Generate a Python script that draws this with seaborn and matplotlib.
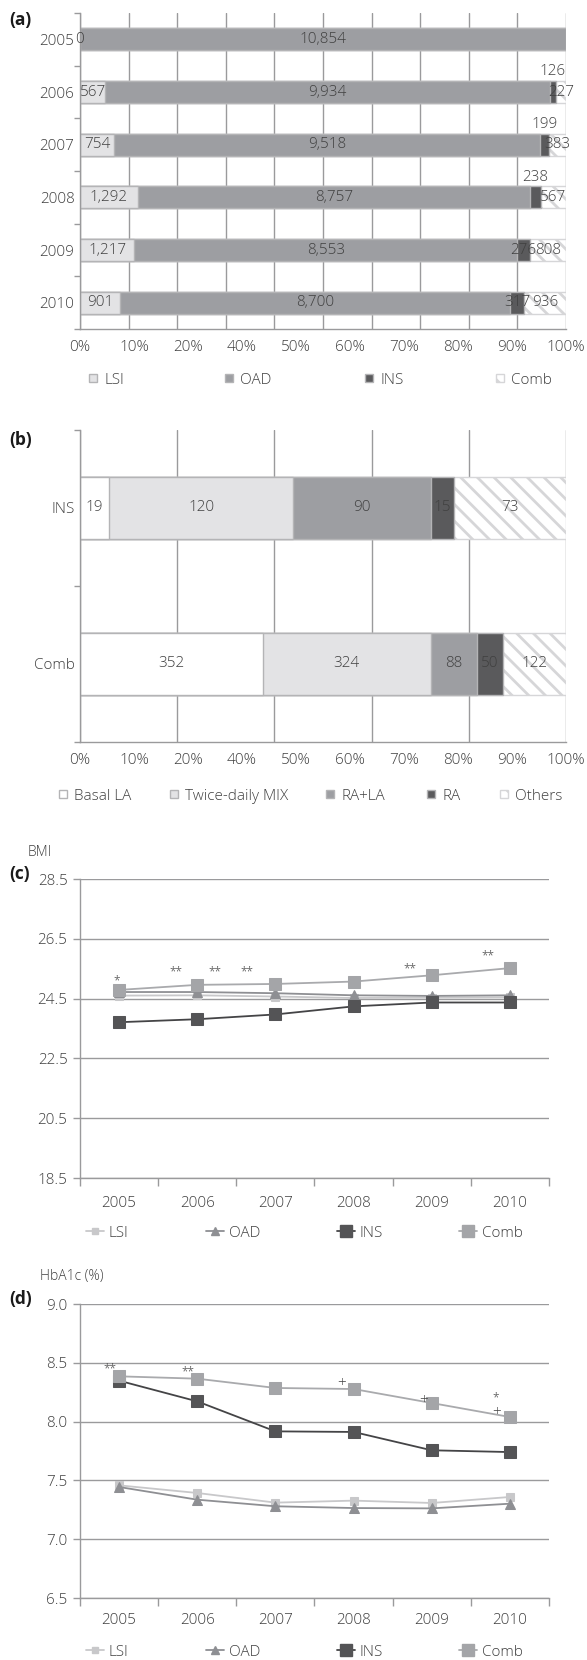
import numpy as np
import matplotlib
matplotlib.use("Agg")
import matplotlib.pyplot as plt
import seaborn as sns
from matplotlib.patches import Patch
from matplotlib.lines import Line2D

sns.set_theme(style="white")
plt.rcParams["font.family"] = ["Open Sans", "DejaVu Sans"]
plt.rcParams["font.weight"] = "light"
plt.rcParams["hatch.linewidth"] = 2.0

# ---------------- data ----------------
# (a) patients by treatment group and year
years = ["2005", "2006", "2007", "2008", "2009", "2010"]
groups = ["LSI", "OAD", "INS", "Comb"]
lsi = [0, 567, 754, 1292, 1217, 901]
oad = [10854, 9934, 9518, 8757, 8553, 8700]
ins = [0, 126, 199, 238, 276, 317]
comb = [0, 227, 383, 567, 808, 936]

# (b) insulin regimens
regimen_rows = ["INS", "Comb"]
regimens = ["Basal LA", "Twice-daily MIX", "RA+LA", "RA", "Others"]
basal_la = [19, 352]
twice_mix = [120, 324]
ra_la = [90, 88]
ra = [15, 50]
others = [73, 122]

pct_labels = ["0%", "10%", "20%", "40%", "50%", "60%", "70%", "80%", "90%", "100%"]

# (c) mean BMI by group
bmi_lsi = [24.60, 24.61, 24.57, 24.52, 24.53, 24.54]
bmi_oad = [24.72, 24.72, 24.68, 24.61, 24.59, 24.61]
bmi_ins = [23.71, 23.81, 23.97, 24.24, 24.37, 24.37]
bmi_comb = [24.79, 24.96, 24.99, 25.07, 25.28, 25.52]
bmi_signif = ["*", "**", "**", "**", "**", "**"]

# (d) mean HbA1c by group
hba_lsi = [7.458, 7.393, 7.311, 7.328, 7.308, 7.359]
hba_oad = [7.444, 7.336, 7.280, 7.265, 7.262, 7.302]
hba_ins = [8.348, 8.172, 7.917, 7.912, 7.756, 7.741]
hba_comb = [8.385, 8.365, 8.286, 8.277, 8.158, 8.039]
hba_signif = ["**", "**", "+", "+", "*", "+"]

# ---------------- styling ----------------
W, H, DPI = 587, 1660, 100
TEXT = "#404040"
GRID = "#9a9a9c"
EDGE = "#b4b4b6"
HATCH_EDGE = "#d6d6d8"
C_WHITE = "#ffffff"
C_LIGHT = "#e3e3e5"
C_MID = "#9d9ea2"
C_DARK = "#5a5a5c"
HATCH = "\\\\"
FS = 11

fig = plt.figure(figsize=(W / DPI, H / DPI), dpi=DPI)
fig.patch.set_facecolor("white")


def rect(l, t, r, b):
    return [l / W, 1 - b / H, (r - l) / W, (b - t) / H]


def fx(px):
    return px / W


def fy(py):
    return 1 - py / H


def stacked_barh(ax, cats, layers, colors, hatches, bar_h):
    counts = np.array(layers, dtype=float)
    frac = counts / counts.sum(axis=0)
    cum = np.cumsum(frac, axis=0)
    for i in reversed(range(len(layers))):
        edge = HATCH_EDGE if hatches[i] else EDGE
        sns.barplot(x=cum[i], y=cats, orient="y", color=colors[i], saturation=1,
                    width=bar_h, edgecolor=edge, linewidth=1.0,
                    hatch=hatches[i], ax=ax, zorder=2)
    return counts, frac, cum


def style_bar_axes(ax, grid_step, n_cats):
    ax.set_xlim(0, 1)
    ax.set_ylim(n_cats - 0.5, -0.5)
    ax.set_xlabel("")
    ax.set_ylabel("")
    gx = np.round(np.arange(0, 1.0001, grid_step), 3)
    ax.set_xticks(gx)
    ax.tick_params(axis="x", length=4, width=1, color=GRID, labelbottom=False, direction="out")
    ax.xaxis.grid(True, color=GRID, linewidth=1.0, zorder=0)
    ax.set_axisbelow(True)
    ax.set_yticks(np.arange(-0.5, n_cats, 1.0), minor=True)
    ax.tick_params(axis="y", which="minor", length=4, width=1, color=GRID, left=True)
    ax.tick_params(axis="y", which="major", length=0, pad=4, labelsize=FS, labelcolor=TEXT)
    for s in ["top", "right"]:
        ax.spines[s].set_visible(False)
    for s in ["left", "bottom"]:
        ax.spines[s].set_color(GRID)
        ax.spines[s].set_linewidth(1.0)
    sec = ax.secondary_xaxis("bottom")
    sec.set_xticks(np.linspace(0, 1, len(pct_labels)), labels=pct_labels)
    sec.tick_params(length=0, pad=8, labelsize=FS, labelcolor=TEXT)
    sec.spines["bottom"].set_visible(False)


def legend_item(handle, label, x_px, y_px, hl, hh, tp):
    fig.legend(handles=[handle], labels=[label], loc="center left",
               bbox_to_anchor=(fx(x_px), fy(y_px)), frameon=False,
               fontsize=FS, labelcolor=TEXT, borderpad=0, borderaxespad=0,
               handlelength=hl, handleheight=hh, handletextpad=tp)


# ---------------- (a) ----------------
ax_a = fig.add_axes(rect(80, 13, 566, 329))
a_colors = [C_LIGHT, C_MID, C_DARK, C_WHITE]
a_hatch = [None, None, None, HATCH]
counts, frac, cum = stacked_barh(ax_a, years, [lsi, oad, ins, comb], a_colors, a_hatch, 0.42)
style_bar_axes(ax_a, 0.1, len(years))
for g in range(len(groups)):
    for j in range(len(years)):
        v = int(counts[g, j])
        if v == 0 and g > 0:
            continue
        xc = cum[g, j] - frac[g, j] / 2
        yc = j
        if g == 2 and frac[g, j] < 0.025:
            yc = j - 0.38
        ax_a.text(xc, yc, f"{v:,}", ha="center", va="center", fontsize=FS,
                  color=TEXT, zorder=5)

a_leg_x = [89, 225, 365, 496]
for g in range(len(groups)):
    h = Patch(facecolor=a_colors[g], edgecolor=HATCH_EDGE if a_hatch[g] else EDGE,
              hatch=a_hatch[g], linewidth=1.0)
    legend_item(h, groups[g], a_leg_x[g], 380, 0.5, 0.5, 0.5)

# ---------------- (b) ----------------
ax_b = fig.add_axes(rect(80, 430, 566, 742))
b_colors = [C_WHITE, C_LIGHT, C_MID, C_DARK, C_WHITE]
b_hatch = [None, None, None, None, HATCH]
counts_b, frac_b, cum_b = stacked_barh(ax_b, regimen_rows,
                                       [basal_la, twice_mix, ra_la, ra, others],
                                       b_colors, b_hatch, 0.4)
style_bar_axes(ax_b, 0.2, len(regimen_rows))
for g in range(len(regimens)):
    for j in range(len(regimen_rows)):
        xc = cum_b[g, j] - frac_b[g, j] / 2
        ax_b.text(xc, j, f"{int(counts_b[g, j]):,}", ha="center", va="center",
                  fontsize=FS, color=TEXT, zorder=5)

b_leg_x = [59, 170, 326, 427, 500]
for g in range(len(regimens)):
    h = Patch(facecolor=b_colors[g], edgecolor=HATCH_EDGE if b_hatch[g] else EDGE,
              hatch=b_hatch[g], linewidth=1.0)
    legend_item(h, regimens[g], b_leg_x[g], 796, 0.5, 0.5, 0.5)

# ---------------- line panels ----------------
line_styles = {
    "LSI": dict(color="#c8c8ca", marker="s", markersize=6, mfc="#c8c8ca", mec="#c8c8ca"),
    "OAD": dict(color="#8e8f93", marker="^", markersize=7, mfc="#8e8f93", mec="#8e8f93"),
    "INS": dict(color="#444446", marker="s", markersize=9, mfc="#545456", mec="#545456"),
    "Comb": dict(color="#a9aaad", marker="s", markersize=9, mfc="#a4a5a8", mec="#a4a5a8"),
}


def line_panel(ax, series, ylim, ystep, fmt, xpad):
    xs = np.arange(len(years))
    for name, vals in zip(groups, series):
        st = line_styles[name]
        sns.lineplot(x=xs, y=vals, ax=ax, color=st["color"], marker=st["marker"],
                     markersize=st["markersize"], markerfacecolor=st["mfc"],
                     markeredgecolor=st["mec"], linewidth=1.3, legend=False, zorder=3)
    ax.set_xlim(-0.5, len(years) - 0.5)
    ax.set_ylim(*ylim)
    ax.set_xticks(xs, labels=years)
    ax.set_xticks(np.arange(-0.5, len(years), 1.0), minor=True)
    ax.tick_params(axis="x", which="major", length=0, pad=xpad, labelsize=FS, labelcolor=TEXT)
    ax.tick_params(axis="x", which="minor", length=6, width=1, color=GRID, bottom=True)
    yt = np.arange(ylim[0], ylim[1] + 1e-9, ystep)
    ax.set_yticks(yt, labels=[fmt.format(v) for v in yt])
    ax.tick_params(axis="y", length=5, width=1, color=GRID, left=True, pad=4,
                   labelsize=FS, labelcolor=TEXT)
    ax.yaxis.grid(True, color=GRID, linewidth=1.0, zorder=0)
    ax.set_axisbelow(True)
    ax.set_xlabel("")
    ax.set_ylabel("")
    for s in ["top", "right"]:
        ax.spines[s].set_visible(False)
    for s in ["left", "bottom"]:
        ax.spines[s].set_color(GRID)
        ax.spines[s].set_linewidth(1.0)


def line_legend(y_px):
    xs_px = [86, 206, 337, 459]
    for name, xp in zip(groups, xs_px):
        st = line_styles[name]
        h = Line2D([], [], color=st["color"], marker=st["marker"],
                   markersize=st["markersize"] - 1, markerfacecolor=st["mfc"],
                   markeredgecolor=st["mec"], linewidth=1.3)
        legend_item(h, name, xp, y_px, 1.15, 0.7, 0.35)


# (c) BMI
ax_c = fig.add_axes(rect(80, 879, 549, 1178))
line_panel(ax_c, [bmi_lsi, bmi_oad, bmi_ins, bmi_comb], (18.5, 28.5), 2.0, "{:.1f}", 13)
bmi_mark_pos = [(-0.03, 25.08), (0.73, 25.40), (1.23, 25.40), (1.64, 25.40), (3.72, 25.50), (4.72, 25.94)]
for s, (x, y) in zip(bmi_signif, bmi_mark_pos):
    ax_c.text(x, y, s, ha="center", va="center", fontsize=8.5, color=TEXT, zorder=5)
line_legend(1233)

# (d) HbA1c
ax_d = fig.add_axes(rect(80, 1304, 549, 1598))
line_panel(ax_d, [hba_lsi, hba_oad, hba_ins, hba_comb], (6.5, 9.0), 0.5, "{:.1f}", 11)
hba_mark_pos = [(-0.12, 8.45), (0.88, 8.42), (2.85, 8.32), (3.90, 8.18), (4.82, 8.20), (4.83, 8.08)]
for s, (x, y) in zip(hba_signif, hba_mark_pos):
    fs = 11 if s == "+" else 8.5
    ax_d.text(x, y, s, ha="center", va="center", fontsize=fs, color=TEXT, zorder=5)
line_legend(1652)

# ---------------- panel titles ----------------
for lab, ypx in [("(a)", 20), ("(b)", 440), ("(c)", 874), ("(d)", 1299)]:
    fig.text(fx(9), fy(ypx), lab, ha="left", va="center", fontsize=12.5,
             fontweight="bold", color="#1a1a1a")
fig.text(fx(28), fy(852), "BMI", ha="left", va="center", fontsize=10, color=TEXT)
fig.text(fx(40), fy(1276), "HbA1c (%)", ha="left", va="center", fontsize=10, color=TEXT)

fig.savefig("out.png", dpi=DPI, facecolor="white")
